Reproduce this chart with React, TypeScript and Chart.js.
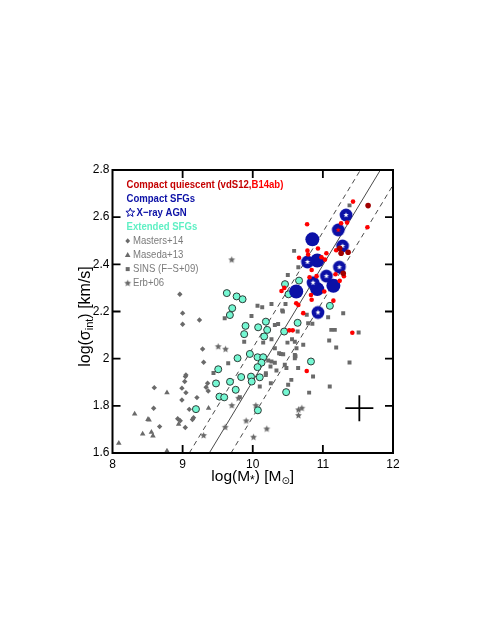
import React, { useEffect, useRef } from 'react';
import { Chart, registerables } from 'chart.js';

Chart.register(...registerables);

const FONT = '"Liberation Sans", Arial, Helvetica, sans-serif';

// ---------- axis ticks ----------
const xTickValues = [8, 9, 10, 11, 12];
const xTickLabels = ['8', '9', '10', '11', '12'];
const yTickValues = [1.6, 1.8, 2.0, 2.2, 2.4, 2.6, 2.8];
const yTickLabels = ['1.6', '1.8', '2', '2.2', '2.4', '2.6', '2.8'];

// ---------- Masters+14 ----------
const mastersX = [8.96, 9.0, 9.0, 9.24, 9.285, 9.3, 9.047, 9.04, 9.03, 8.99, 8.596, 9.356, 9.335, 9.365, 9.047, 8.99, 9.204, 8.587, 8.672, 8.93, 8.966, 9.095, 9.156, 9.14, 9.038];
const mastersY = [2.273, 2.193, 2.146, 2.164, 2.041, 1.985, 1.931, 1.924, 1.903, 1.875, 1.877, 1.896, 1.879, 1.863, 1.856, 1.825, 1.835, 1.79, 1.712, 1.745, 1.737, 1.785, 1.75, 1.742, 1.708];

// ---------- Maseda+13 ----------
const masedaX = [8.09, 8.316, 8.43, 8.506, 8.522, 8.555, 8.577, 8.777, 8.943, 9.37, 8.777];
const masedaY = [1.642, 1.766, 1.681, 1.743, 1.74, 1.688, 1.673, 1.856, 1.722, 1.79, 1.609];

// ---------- SINS (F-S+09) ----------
const sinsX = [9.6, 9.982, 10.068, 10.135, 10.267, 10.467, 10.315, 10.362, 9.878, 10.149, 10.267, 10.315, 10.4, 10.434, 10.56, 10.6, 10.495, 10.624, 10.6, 10.6, 10.457, 10.48, 10.22, 10.267, 10.187, 10.338, 9.65, 9.816, 10.258, 10.505, 10.55, 10.1, 10.186, 10.253, 10.647, 10.376, 10.315, 11.29, 11.51, 11.075, 11.12, 11.17, 11.09, 11.19, 11.38, 10.79, 10.85, 10.77, 10.64, 10.72, 10.61, 10.86, 11.098, 11.098, 10.804, 11.38, 10.59, 10.65, 10.5, 10.43, 10.42, 9.44];
const sinsY = [2.171, 2.181, 2.224, 2.218, 2.232, 2.232, 2.143, 2.147, 2.072, 2.068, 2.082, 2.044, 2.02, 2.019, 2.082, 2.072, 2.068, 2.044, 2.002, 2.016, 1.974, 1.96, 1.992, 1.988, 1.938, 1.95, 1.981, 1.837, 1.896, 1.889, 1.91, 1.882, 1.931, 1.967, 1.96, 2.023, 1.983, 2.193, 2.111, 2.176, 2.122, 2.122, 2.077, 2.047, 1.984, 2.15, 2.148, 2.186, 2.115, 2.059, 2.01, 1.924, 2.224, 1.882, 1.856, 2.65, 2.457, 2.388, 2.355, 2.2, 2.204, 1.939];

// ---------- Erb+06 ----------
const erbX = [9.7, 9.299, 9.607, 9.702, 9.797, 10.044, 9.906, 10.2, 10.011, 10.652, 10.7, 10.652, 9.508, 9.612];
const erbY = [2.419, 1.674, 1.709, 1.801, 1.832, 1.801, 1.736, 1.702, 1.667, 1.783, 1.79, 1.759, 2.051, 2.04];

// ---------- Extended SFGs ----------
const extX = [9.63, 9.77, 9.855, 9.707, 9.674, 9.897, 9.878, 10.077, 10.187, 10.206, 10.163, 10.448, 10.46, 10.51, 10.66, 10.64, 11.1, 10.86, 10.83, 10.476, 9.959, 10.068, 10.149, 10.125, 10.068, 9.783, 9.508, 9.835, 9.975, 10.1, 9.476, 9.676, 9.985, 9.757, 9.525, 9.593, 9.19, 10.073];
const extY = [2.278, 2.264, 2.252, 2.214, 2.185, 2.139, 2.104, 2.133, 2.157, 2.122, 2.094, 2.115, 2.316, 2.273, 2.331, 2.152, 2.224, 2.303, 1.988, 1.858, 2.02, 2.006, 2.006, 1.983, 1.964, 2.002, 1.955, 1.922, 1.924, 1.921, 1.895, 1.902, 1.903, 1.868, 1.839, 1.836, 1.786, 1.781];

// ---------- Compact quiescent ----------
const b14X = [11.43, 11.635, 10.775, 10.78, 10.93, 10.66, 11.05, 10.98, 11.03, 11.19, 11.3, 10.84, 10.81, 10.91, 11.345, 11.26, 10.45, 10.41, 10.83, 10.84, 10.65, 10.62, 10.72, 11.02, 11.15, 11.24, 10.52, 10.57, 10.77, 11.42, 10.79, 11.18];
const b14Y = [2.666, 2.557, 2.57, 2.458, 2.467, 2.428, 2.447, 2.43, 2.42, 2.46, 2.35, 2.376, 2.345, 2.35, 2.577, 2.574, 2.3, 2.287, 2.27, 2.25, 2.228, 2.235, 2.193, 2.285, 2.246, 2.33, 2.12, 2.12, 1.948, 2.11, 2.442, 2.358];
const vdsX = [11.645, 11.26, 11.36, 11.24, 11.29];
const vdsY = [2.649, 2.447, 2.451, 2.468, 2.362];

// ---------- Compact SFGs ----------
const cSfgX = [10.85, 10.92, 10.62, 10.92, 11.15];
const cSfgY = [2.506, 2.416, 2.285, 2.295, 2.309];
const agnX = [11.33, 11.28, 11.236, 10.78, 11.05, 10.86, 10.93];
const agnY = [2.609, 2.478, 2.388, 2.41, 2.35, 2.322, 2.196];
const agnQX = [11.22];
const agnQY = [2.546];

// ---------- relations ----------
const solidX = [9.38, 11.82];
const solidY = [1.6, 2.8];
const dashUpX = [9.095, 11.535];
const dashUpY = [1.6, 2.8];
const dashLowX = [9.69, 12.0];
const dashLowY = [1.6, 2.736];

// ---------- typical error ----------
const errX = 11.52;
const errY = 1.79;
const errDx = 0.2;
const errDy = 0.055;

const GRAY = '#6a6a6a';
const GRAY_TXT = '#7b7b7b';
const BLUE = '#0b10a6';
const CYAN = '#74f7d2';
const RED = '#ff0000';
const DARKRED = '#a00000';

const pts = (xs: number[], ys: number[]) => xs.map((x, i) => ({ x, y: ys[i] }));

function starPath(ctx: CanvasRenderingContext2D, cx: number, cy: number, ro: number, ri: number) {
  ctx.beginPath();
  for (let k = 0; k < 10; k++) {
    const r = k % 2 === 0 ? ro : ri;
    const a = -Math.PI / 2 + (k * Math.PI) / 5;
    const px = cx + r * Math.cos(a);
    const py = cy + r * Math.sin(a);
    if (k === 0) ctx.moveTo(px, py);
    else ctx.lineTo(px, py);
  }
  ctx.closePath();
}

function makeMarker(size: number, draw: (g: CanvasRenderingContext2D, c: number) => void) {
  const cv = document.createElement('canvas');
  cv.width = size;
  cv.height = size;
  const g = cv.getContext('2d')!;
  draw(g, size / 2);
  return cv;
}

function txt(ctx: CanvasRenderingContext2D, s: string, x: number, y: number, color: string, font: string, sx = 1) {
  ctx.save();
  ctx.translate(x, y);
  ctx.scale(sx, 1);
  ctx.fillStyle = color;
  ctx.font = font;
  ctx.textBaseline = 'middle';
  ctx.textAlign = 'left';
  ctx.fillText(s, 0, 0);
  const w = ctx.measureText(s).width * sx;
  ctx.restore();
  return w;
}

type Part = { s: string; size: number; dy: number; fam?: string };
function rich(ctx: CanvasRenderingContext2D, parts: Part[], cx: number, cy: number) {
  let total = 0;
  parts.forEach((p) => {
    ctx.font = `${p.size}px ${p.fam || FONT}`;
    total += ctx.measureText(p.s).width;
  });
  let x = cx - total / 2;
  parts.forEach((p) => {
    ctx.font = `${p.size}px ${p.fam || FONT}`;
    ctx.fillStyle = '#000';
    ctx.textBaseline = 'alphabetic';
    ctx.textAlign = 'left';
    ctx.fillText(p.s, x, cy + p.dy);
    x += ctx.measureText(p.s).width;
  });
}

export default function App() {
  const ref = useRef<HTMLCanvasElement>(null);

  useEffect(() => {
    const erbStar = makeMarker(9, (g, c) => {
      starPath(g, c, c, 3.6, 1.7);
      g.fillStyle = GRAY;
      g.fill();
    });
    const agnMarker = (starColor: string) =>
      makeMarker(16, (g, c) => {
        g.beginPath();
        g.arc(c, c, 6.4, 0, Math.PI * 2);
        g.fillStyle = BLUE;
        g.fill();
        starPath(g, c, c, 2.8, 1.2);
        g.fillStyle = starColor;
        g.fill();
      });
    const agnWhite = agnMarker('#ffffff');
    const agnRed = agnMarker(RED);

    const decor = {
      id: 'decor',
      afterDatasetsDraw(chart: any) {
        const { ctx, chartArea: a, scales } = chart;
        const xs = scales.x;
        const ys = scales.y;
        ctx.save();
        ctx.strokeStyle = '#000';
        ctx.lineWidth = 2;
        ctx.strokeRect(a.left, a.top, a.right - a.left, a.bottom - a.top);
        ctx.lineWidth = 1.8;
        ctx.beginPath();
        xTickValues.slice(1, -1).forEach((v) => {
          const p = xs.getPixelForValue(v);
          ctx.moveTo(p, a.bottom);
          ctx.lineTo(p, a.bottom - 8);
          ctx.moveTo(p, a.top);
          ctx.lineTo(p, a.top + 8);
        });
        yTickValues.slice(1, -1).forEach((v) => {
          const p = ys.getPixelForValue(v);
          ctx.moveTo(a.left, p);
          ctx.lineTo(a.left + 8, p);
          ctx.moveTo(a.right, p);
          ctx.lineTo(a.right - 8, p);
        });
        ctx.stroke();

        // legend
        const lx = a.left + 14;
        const ly = a.top + 14.5;
        const dy = 14.1;
        const bold = `bold 11px ${FONT}`;
        const norm = `11px ${FONT}`;
        const sx = 0.87;
        const w1 = txt(ctx, 'Compact quiescent (vdS12,', lx, ly, '#c40000', bold, sx);
        txt(ctx, 'B14ab)', lx + w1, ly, RED, bold, sx);
        txt(ctx, 'Compact SFGs', lx, ly + dy, BLUE, bold, sx);
        starPath(ctx, lx + 3.8, ly + 2 * dy, 4.6, 2.0);
        ctx.strokeStyle = BLUE;
        ctx.lineWidth = 1;
        ctx.stroke();
        txt(ctx, 'X\u2212ray AGN', lx + 10, ly + 2 * dy, BLUE, bold, sx);
        txt(ctx, 'Extended SFGs', lx, ly + 3 * dy, '#5ff0c4', bold, sx);
        const mx = lx + 1.2;
        const tx = lx + 6.5;
        ctx.fillStyle = GRAY;
        let yy = ly + 4 * dy;
        ctx.beginPath();
        ctx.moveTo(mx, yy - 2.7);
        ctx.lineTo(mx + 2.4, yy);
        ctx.lineTo(mx, yy + 2.7);
        ctx.lineTo(mx - 2.4, yy);
        ctx.closePath();
        ctx.fill();
        txt(ctx, 'Masters+14', tx, yy, GRAY_TXT, norm, sx);
        yy = ly + 5 * dy;
        ctx.beginPath();
        ctx.moveTo(mx, yy - 2.9);
        ctx.lineTo(mx + 2.8, yy + 2);
        ctx.lineTo(mx - 2.8, yy + 2);
        ctx.closePath();
        ctx.fill();
        txt(ctx, 'Maseda+13', tx, yy, GRAY_TXT, norm, sx);
        yy = ly + 6 * dy;
        ctx.fillRect(mx - 2, yy - 2, 4, 4);
        txt(ctx, 'SINS (F\u2212S+09)', tx, yy, GRAY_TXT, norm, sx);
        yy = ly + 7 * dy;
        ctx.drawImage(erbStar, mx - 4.5, yy - 4.5);
        txt(ctx, 'Erb+06', tx, yy, GRAY_TXT, norm, sx);

        // axis titles
        const cxm = (a.left + a.right) / 2;
        rich(
          ctx,
          [
            { s: 'log(M', size: 15.5, dy: 0 },
            { s: '*', size: 12, dy: 3 },
            { s: ') [M', size: 15.5, dy: 0 },
            { s: '\u2299', size: 10, dy: 3, fam: '"DejaVu Sans"' },
            { s: ']', size: 15.5, dy: 0 },
          ],
          cxm,
          a.bottom + 28
        );
        ctx.save();
        ctx.translate(a.left - 23, (a.top + a.bottom) / 2 + 5);
        ctx.rotate(-Math.PI / 2);
        rich(
          ctx,
          [
            { s: 'log(\u03c3', size: 16, dy: 0 },
            { s: 'int', size: 11, dy: 3 },
            { s: ') [km/s]', size: 16, dy: 0 },
          ],
          0,
          0
        );
        ctx.restore();
        ctx.restore();
      },
    };

    const lineDs = (xs: number[], ys: number[], dash: number[]) => ({
      data: pts(xs, ys),
      showLine: true,
      borderColor: '#4a4a4a',
      borderWidth: 1,
      borderDash: dash,
      pointRadius: 0,
      fill: false,
      order: 20,
    });

    const chart = new Chart(ref.current!, {
      type: 'scatter',
      data: {
        datasets: [
          lineDs(solidX, solidY, []),
          lineDs(dashUpX, dashUpY, [5, 4]),
          lineDs(dashLowX, dashLowY, [5, 4]),
          { data: pts(mastersX, mastersY), pointStyle: 'rectRot', pointRadius: 2.7, backgroundColor: GRAY, borderWidth: 0, order: 15 },
          { data: pts(masedaX, masedaY), pointStyle: 'triangle', pointRadius: 3.2, backgroundColor: GRAY, borderWidth: 0, order: 15 },
          { data: pts(sinsX, sinsY), pointStyle: 'rect', pointRadius: 2.8, backgroundColor: GRAY, borderWidth: 0, order: 15 },
          { data: pts(erbX, erbY), pointStyle: erbStar, order: 15 },
          { data: pts(extX, extY), pointStyle: 'circle', pointRadius: 3.5, backgroundColor: CYAN, borderColor: '#2e3a36', borderWidth: 1, order: 12 },
          { data: pts(cSfgX, cSfgY), pointStyle: 'circle', pointRadius: 7, backgroundColor: BLUE, borderWidth: 0, order: 10 },
          { data: pts(agnX, agnY), pointStyle: agnWhite, order: 9 },
          { data: pts(agnQX, agnQY), pointStyle: agnRed, order: 9 },
          { data: pts(b14X, b14Y), pointStyle: 'circle', pointRadius: 2.3, backgroundColor: RED, borderWidth: 0, order: 7 },
          { data: pts(vdsX, vdsY), pointStyle: 'circle', pointRadius: 2.8, backgroundColor: DARKRED, borderWidth: 0, order: 6 },
          {
            data: [{ x: errX - errDx, y: errY }, { x: errX + errDx, y: errY }],
            showLine: true, borderColor: '#000', borderWidth: 1.8, pointRadius: 0, order: 2,
          },
          {
            data: [{ x: errX, y: errY - errDy }, { x: errX, y: errY + errDy }],
            showLine: true, borderColor: '#000', borderWidth: 1.8, pointRadius: 0, order: 2,
          },
        ] as any,
      },
      options: {
        animation: false,
        responsive: false,
        devicePixelRatio: 1,
        events: [],
        layout: { padding: { left: 62.5, top: 170, right: 98, bottom: 152 } },
        plugins: { legend: { display: false }, tooltip: { enabled: false }, title: { display: false } },
        scales: {
          x: {
            type: 'linear',
            min: 8,
            max: 12,
            grid: { display: false, drawTicks: false },
            border: { display: false },
            afterBuildTicks: (s: any) => {
              s.ticks = xTickValues.map((v) => ({ value: v }));
            },
            afterFit: (s: any) => {
              s.height = 30;
            },
            ticks: {
              autoSkip: false,
              maxRotation: 0,
              padding: 4,
              color: '#000',
              font: { family: FONT, size: 12 },
              callback: (_v: any, i: number) => xTickLabels[i],
            },
          },
          y: {
            type: 'linear',
            min: 1.6,
            max: 2.8,
            grid: { display: false, drawTicks: false },
            border: { display: false },
            afterBuildTicks: (s: any) => {
              s.ticks = yTickValues.map((v) => ({ value: v }));
            },
            afterFit: (s: any) => {
              s.width = 50;
            },
            ticks: {
              autoSkip: false,
              padding: 3,
              color: '#000',
              font: { family: FONT, size: 12 },
              callback: (_v: any, i: number) => yTickLabels[i],
            },
          },
        },
      } as any,
      plugins: [decor],
    });
    return () => chart.destroy();
  }, []);

  return (
    <canvas
      ref={ref}
      width={491}
      height={635}
      style={{ position: 'absolute', left: 0, top: 0, width: 491, height: 635, display: 'block' }}
    />
  );
}
